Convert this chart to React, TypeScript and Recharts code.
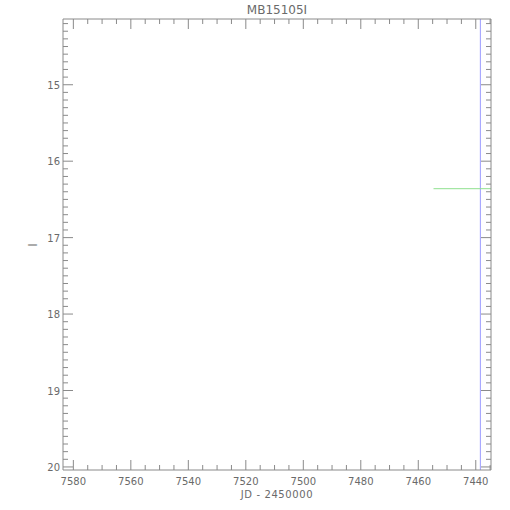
import { ComposedChart, Line, ReferenceLine, XAxis, YAxis } from "recharts";

const TITLE = "MB15105I";
const X_LABEL = "JD - 2450000";
const Y_LABEL = "I";

// axis ranges (JD runs right-to-left, magnitude top-to-bottom)
const xDomain = [7434.7, 7583.6];
const yDomain = [14.14, 20.04];

const xMajorTicks = [7440, 7460, 7480, 7500, 7520, 7540, 7560, 7580];
const yMajorTicks = [15, 16, 17, 18, 19, 20];
const xMinorStep = 5;
const yMinorStep = 0.1;

// light curve: a single flat segment plus the current-epoch marker
const jd = [7454.7, 7434.7];
const mag = [16.36, 16.36];
const nowJd = 7438.4;

const AXIS = "#8a8a8a";
const TEXT = "#6a6a6a";
const FONT = "DejaVu Sans, sans-serif";

const data = jd.map((x, i) => ({ x, y: mag[i] }));

function steps(lo: number, hi: number, step: number) {
  const out: number[] = [];
  const start = Math.ceil(lo / step - 1e-9);
  for (let k = start; k * step <= hi + 1e-9; k++) out.push(Math.round(k * step * 100) / 100);
  return out;
}

const xTicks = steps(xDomain[0], xDomain[1], xMinorStep);
const yTicks = steps(yDomain[0], yDomain[1], yMinorStep);

const isMajor = (list: number[], v: number) => list.some((m) => Math.abs(m - v) < 1e-6);

function Tick(props: any) {
  const { x, y, payload, side } = props;
  const v = payload.value as number;
  const major = side === "bottom" || side === "top" ? isMajor(xMajorTicks, v) : isMajor(yMajorTicks, v);
  const len = major ? 10 : 5;
  let line;
  if (side === "bottom") line = <line x1={x} y1={y} x2={x} y2={y - len} stroke={AXIS} />;
  else if (side === "top") line = <line x1={x} y1={y} x2={x} y2={y + len} stroke={AXIS} />;
  else if (side === "left") line = <line x1={x} y1={y} x2={x + len} y2={y} stroke={AXIS} />;
  else line = <line x1={x} y1={y} x2={x - len} y2={y} stroke={AXIS} />;
  return (
    <g>
      {line}
      {major && side === "bottom" && (
        <text x={x} y={y + 15} textAnchor="middle" fill={TEXT} fontSize={10} fontFamily={FONT}>
          {v}
        </text>
      )}
      {major && side === "left" && (
        <text x={x - 3} y={y + 4} textAnchor="end" fill={TEXT} fontSize={10} fontFamily={FONT}>
          {v}
        </text>
      )}
    </g>
  );
}

export default function App() {
  return (
    <div style={{ position: "absolute", left: 0, top: 0, width: 510, height: 510, background: "#fff" }}>
      <ComposedChart width={510} height={510} data={data} margin={{ top: 0, right: 0, bottom: 0, left: 0 }}>
        <XAxis
          xAxisId="b"
          dataKey="x"
          type="number"
          domain={xDomain}
          reversed
          allowDataOverflow
          ticks={xTicks}
          interval={0}
          height={40}
          tickSize={0}
          tickMargin={0}
          tickLine={false}
          axisLine={{ stroke: AXIS }}
          tick={<Tick side="bottom" />}
        />
        <XAxis
          xAxisId="t"
          orientation="top"
          dataKey="x"
          type="number"
          domain={xDomain}
          reversed
          allowDataOverflow
          ticks={xTicks}
          interval={0}
          height={19}
          tickSize={0}
          tickMargin={0}
          tickLine={false}
          axisLine={{ stroke: AXIS }}
          tick={<Tick side="top" />}
        />
        <YAxis
          yAxisId="l"
          type="number"
          domain={yDomain}
          reversed
          allowDataOverflow
          ticks={yTicks}
          interval={0}
          width={63}
          tickSize={0}
          tickMargin={0}
          tickLine={false}
          axisLine={{ stroke: AXIS }}
          tick={<Tick side="left" />}
        />
        <YAxis
          yAxisId="r"
          orientation="right"
          type="number"
          domain={yDomain}
          reversed
          allowDataOverflow
          ticks={yTicks}
          interval={0}
          width={19}
          tickSize={0}
          tickMargin={0}
          tickLine={false}
          axisLine={{ stroke: AXIS }}
          tick={<Tick side="right" />}
        />
        <ReferenceLine xAxisId="b" yAxisId="l" x={nowJd} stroke="#9c9cff" strokeWidth={1} />
        <Line
          xAxisId="b"
          yAxisId="l"
          dataKey="y"
          stroke="#8fe08f"
          strokeWidth={1}
          dot={false}
          isAnimationActive={false}
        />
        <text x={277} y={14} textAnchor="middle" fill={TEXT} fontSize={12} fontFamily={FONT}>
          {TITLE}
        </text>
        <text
          x={277}
          y={498}
          textAnchor="middle"
          fill={TEXT}
          fontSize={10}
          fontFamily={FONT}
          style={{ whiteSpace: "pre" }}
          letterSpacing={0.6}
        >
          {X_LABEL}
        </text>
        <text
          x={37}
          y={245}
          textAnchor="middle"
          fill={TEXT}
          fontSize={12}
          fontFamily={FONT}
          transform="rotate(-90 37 245)"
        >
          {Y_LABEL}
        </text>
      </ComposedChart>
    </div>
  );
}
